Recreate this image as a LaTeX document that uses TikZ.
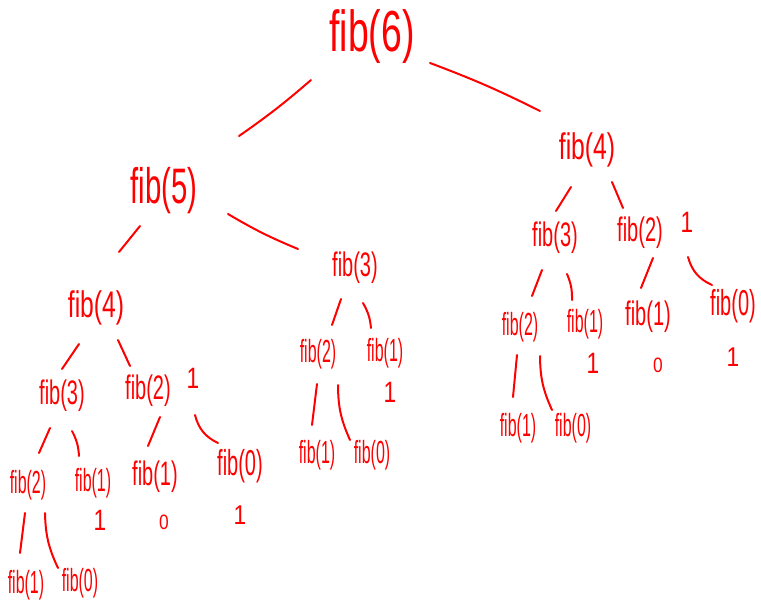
\documentclass[tikz,border=0pt]{standalone}
\usepackage{fontspec}
\usetikzlibrary{calc}
\newfontfamily\handfont{Liberation Sans}
% stretch text vertically to get tall, narrow hand-lettering
\newcommand\tallt[2]{\scalebox{1}[#1]{#2}}
\begin{document}
\begin{tikzpicture}[x=0.75pt,y=-0.75pt,
  lab/.style={text=red, inner sep=0pt},
  szbig/.style={lab, font=\handfont\fontsize{28}{28}\selectfont},
  szfive/.style={lab, font=\handfont\fontsize{22}{22}\selectfont},
  szfour/.style={lab, font=\handfont\fontsize{18.5}{18.5}\selectfont},
  szmid/.style={lab, font=\handfont\fontsize{15}{15}\selectfont},
  szsmall/.style={lab, font=\handfont\fontsize{12}{12}\selectfont},
  valone/.style={lab, font=\handfont\fontsize{17}{17}\selectfont},
  valzero/.style={lab, font=\handfont\fontsize{13}{13}\selectfont},
  stroke/.style={draw=red, line width=1.5pt, line cap=round, line join=round}]
\useasboundingbox (0,0) rectangle (761,607);

% call tree nodes
\node[szbig]  (f6)  at (372,37)  {\tallt{1.55}{fib(6)}};
\node[szfive] (f5)  at (164,191) {\tallt{1.7}{fib(5)}};
\node[szfour] (r4)  at (587,150) {\tallt{1.5}{fib(4)}};
\node[szfour] (l4)  at (96,308)  {\tallt{1.5}{fib(4)}};
\node[szmid]  (m3)  at (355,268) {\tallt{1.7}{fib(3)}};
\node[szmid]  (r3)  at (555,238) {\tallt{1.7}{fib(3)}};
\node[szmid]  (r2)  at (640,233) {\tallt{1.7}{fib(2)}};
\node[szmid]  (l3)  at (62,396)  {\tallt{1.7}{fib(3)}};
\node[szmid]  (l2)  at (148,391) {\tallt{1.7}{fib(2)}};
\node[szsmall] (m2) at (318,354) {\tallt{2}{fib(2)}};
\node[szsmall] (m1) at (385,353) {\tallt{2}{fib(1)}};
\node[szsmall] (r2b) at (520,327) {\tallt{2}{fib(2)}};
\node[szsmall] (r1a) at (585,324) {\tallt{2}{fib(1)}};
\node[szmid]  (r1b) at (648,317) {\tallt{1.7}{fib(1)}};
\node[szmid]  (r0)  at (733,306) {\tallt{1.8}{fib(0)}};
\node[szsmall] (r1c) at (518,428) {\tallt{2}{fib(1)}};
\node[szsmall] (r0c) at (573,428) {\tallt{2}{fib(0)}};
\node[szsmall] (m1c) at (317,455) {\tallt{2}{fib(1)}};
\node[szsmall] (m0c) at (372,455) {\tallt{2}{fib(0)}};
\node[szsmall] (l2b) at (28,485)  {\tallt{2}{fib(2)}};
\node[szsmall] (l1a) at (93,483)  {\tallt{2}{fib(1)}};
\node[szmid]  (l1b) at (155,477) {\tallt{1.7}{fib(1)}};
\node[szmid]  (l0)  at (240,466) {\tallt{1.8}{fib(0)}};
\node[szsmall] (l1c) at (26,585)  {\tallt{2}{fib(1)}};
\node[szsmall] (l0c) at (80,583)  {\tallt{2}{fib(0)}};

% returned values
\node[valone]  (vr2)  at (687,222) {\tallt{1.3}{1}};
\node[valone]  (vl2)  at (193,378) {\tallt{1.3}{1}};
\node[valone]  (vm1)  at (390,392) {\tallt{1.3}{1}};
\node[valone]  (vr1a) at (593,363) {\tallt{1.3}{1}};
\node[valzero] (vr1b) at (658,365) {\tallt{1.2}{0}};
\node[valone]  (vr0)  at (733,357) {\tallt{1.2}{1}};
\node[valone]  (vl1a) at (100,520) {\tallt{1.3}{1}};
\node[valzero] (vl1b) at (164,522) {\tallt{1.2}{0}};
\node[valone]  (vl0)  at (240,515) {\tallt{1.2}{1}};

% recursive calls
\draw[stroke] ($(f6)+(-61,43)$) to[bend left=3] ($(f5)+(75,-55)$);
\draw[stroke] ($(f6)+(58,26)$) to[bend left=3] ($(r4)+(-47,-39)$);
\draw[stroke] ($(f5)+(-24,35)$) -- ($(l4)+(23,-56)$);
\draw[stroke] ($(f5)+(64,23)$) to[bend right=4] ($(m3)+(-57,-19)$);
\draw[stroke] ($(l4)+(-17,36)$) -- ($(l3)+(0,-27)$);
\draw[stroke] ($(l4)+(22,32)$) -- ($(l2)+(-18,-25)$);
\draw[stroke] ($(l3)+(-12,32)$) -- ($(l2b)+(11,-32)$);
\draw[stroke] ($(l3)+(10,35)$) to[bend left=12] ($(l1a)+(-14,-27)$);
\draw[stroke] ($(l2)+(12,26)$) -- ($(l1b)+(-7,-31)$);
\draw[stroke] ($(l2)+(47,24)$) to[bend right=25] ($(l0)+(-22,-23)$);
\draw[stroke] ($(l2b)+(-3,28)$) -- ($(l1c)+(-6,-32)$);
\draw[stroke] ($(l2b)+(17,28)$) to[bend right=12] ($(l0c)+(-22,-15)$);
\draw[stroke] ($(m3)+(-14,31)$) -- ($(m2)+(14,-29)$);
\draw[stroke] ($(m3)+(8,35)$) to[bend left=12] ($(m1)+(-14,-25)$);
\draw[stroke] ($(m2)+(-1,30)$) -- ($(m1c)+(-5,-30)$);
\draw[stroke] ($(m2)+(20,31)$) to[bend right=12] ($(m0c)+(-22,-15)$);
\draw[stroke] ($(r4)+(-16,37)$) -- ($(r3)+(1,-27)$);
\draw[stroke] ($(r4)+(25,32)$) -- ($(r2)+(-17,-25)$);
\draw[stroke] ($(r3)+(-13,32)$) -- ($(r2b)+(12,-31)$);
\draw[stroke] ($(r3)+(12,36)$) to[bend left=12] ($(r1a)+(-13,-24)$);
\draw[stroke] ($(r2)+(13,25)$) -- ($(r1b)+(-7,-29)$);
\draw[stroke] ($(r2)+(48,24)$) to[bend right=25] ($(r0)+(-21,-21)$);
\draw[stroke] ($(r2b)+(-3,28)$) -- ($(r1c)+(-5,-31)$);
\draw[stroke] ($(r2b)+(20,29)$) to[bend right=12] ($(r0c)+(-21,-18)$);
\end{tikzpicture}
\end{document}
